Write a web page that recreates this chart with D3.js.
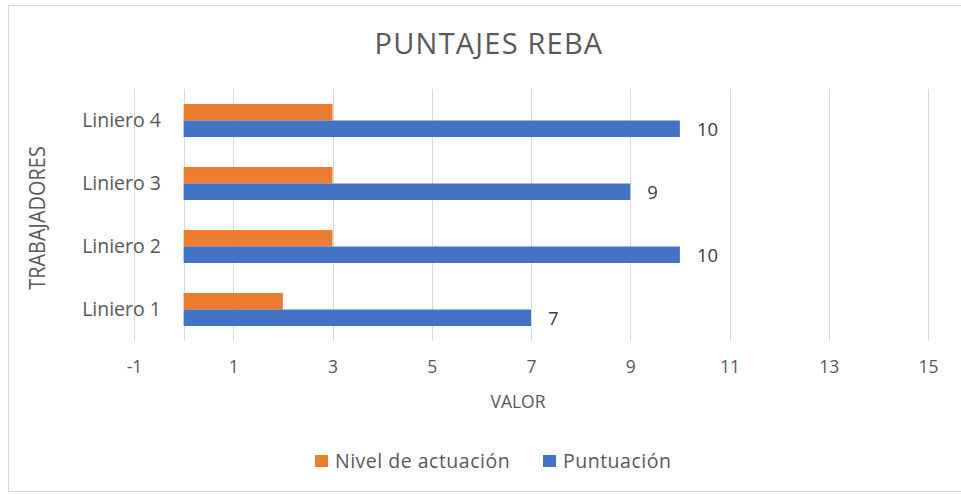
<!DOCTYPE html>
<html>
<head>
<meta charset="utf-8">
<script src="https://cdn.jsdelivr.net/npm/d3@7"></script>
<style>
  body { margin: 0; background: #fff; }
  text { font-family: "Open Sans", sans-serif; fill: #595959; }
</style>
</head>
<body>
<script>
// datos del grafico
var workers = ["Liniero 4", "Liniero 3", "Liniero 2", "Liniero 1"]
var seriesNames = ["Nivel de actuación", "Puntuación"]
var nivel = [3, 3, 3, 2]
var puntuacion = [10, 9, 10, 7]
var tickValues = [-1, 1, 3, 5, 7, 9, 11, 13, 15]
var colors = ["#ED7D31", "#4472C4"]

var outerWidth = 961,
  outerHeight = 495,
  plot = {left: 134, right: 928, top: 89, bottom: 341};

window.onload = function() {
  var svg = d3.select("body").append("svg")
      .attr("width", outerWidth)
      .attr("height", outerHeight);

  // borde del area del grafico
  svg.append("rect")
      .attr("x", 8.5).attr("y", 5.5)
      .attr("width", 960).attr("height", 486)
      .attr("fill", "none")
      .attr("stroke", "#d9d9d9");

  var xScale = d3.scaleLinear()
      .domain([-1, 15])
      .range([plot.left, plot.right]);

  var yScale = d3.scaleBand()
      .domain(workers)
      .range([plot.top, plot.bottom])
      .paddingInner(0.476)
      .paddingOuter(0.238);

  var ySub = d3.scaleBand()
      .domain(seriesNames)
      .range([0, yScale.bandwidth()]);

  // lineas de cuadricula
  svg.append("g").selectAll("line")
      .data(tickValues.concat([0]))
      .enter().append("line")
      .attr("x1", function(d) { return Math.round(xScale(d)) + 0.5; })
      .attr("x2", function(d) { return Math.round(xScale(d)) + 0.5; })
      .attr("y1", plot.top)
      .attr("y2", plot.bottom)
      .attr("stroke", "#d9d9d9")
      .attr("stroke-width", 1);

  var xAxis = d3.axisBottom(xScale)
      .tickValues(tickValues)
      .tickSize(0)
      .tickPadding(20);

  var gx = svg.append("g")
      .attr("transform", "translate(0," + plot.bottom + ")")
      .call(xAxis);
  gx.select(".domain").remove();
  gx.selectAll("text")
      .style("font-size", "17.5px")
      .attr("fill", "#595959")
      .text(function(d) { return d < 0 ? "-" + Math.abs(d) : d; });

  // etiquetas de categorias
  svg.append("g").selectAll("text")
      .data(workers)
      .enter().append("text")
      .attr("x", 161)
      .attr("y", function(d) { return yScale(d) + yScale.bandwidth() / 2; })
      .attr("dy", "0.35em")
      .attr("text-anchor", "end")
      .style("font-size", "19.5px")
      .text(function(d) { return d; });

  var dataset = [nivel, puntuacion];
  dataset.forEach(function(values, s) {
    svg.append("g").selectAll("rect")
        .data(values)
        .enter().append("rect")
        .attr("x", xScale(0))
        .attr("y", function(d, i) { return yScale(workers[i]) + ySub(seriesNames[s]); })
        .attr("width", function(d) { return xScale(d) - xScale(0); })
        .attr("height", ySub.bandwidth())
        .attr("fill", colors[s]);
  });

  // etiquetas de datos solo para puntuacion
  svg.append("g").selectAll("text")
      .data(puntuacion)
      .enter().append("text")
      .attr("x", function(d) { return xScale(d) + 17; })
      .attr("y", function(d, i) {
        return yScale(workers[i]) + ySub(seriesNames[1]) + ySub.bandwidth() / 2 + 1;
      })
      .attr("dy", "0.35em")
      .style("font-size", "18.5px")
      .style("fill", "#404040")
      .text(function(d) { return d; });

  svg.append("text")
      .attr("x", 489)
      .attr("y", 54)
      .attr("text-anchor", "middle")
      .style("font-size", "29px")
      .style("letter-spacing", "1.2px")
      .text("PUNTAJES REBA");

  svg.append("text")
      .attr("x", 518)
      .attr("y", 408)
      .attr("text-anchor", "middle")
      .style("font-size", "17.5px")
      .text("VALOR");

  svg.append("text")
      .attr("transform", "translate(45,218) rotate(-90) scale(0.95,1)")
      .attr("text-anchor", "middle")
      .style("font-size", "21px")
      .text("TRABAJADORES");

  // leyenda
  var legendX = [315, 543];
  var legend = svg.append("g").selectAll("g")
      .data(seriesNames)
      .enter().append("g")
      .attr("transform", function(d, i) { return "translate(" + legendX[i] + ",455)"; });
  legend.append("rect")
      .attr("width", 13).attr("height", 12)
      .attr("fill", function(d, i) { return colors[i]; });
  legend.append("text")
      .attr("x", 20).attr("y", 6)
      .attr("dy", "0.35em")
      .style("font-size", "19.5px")
      .style("letter-spacing", "0.5px")
      .text(function(d) { return d; });
};
</script>
</body>
</html>
